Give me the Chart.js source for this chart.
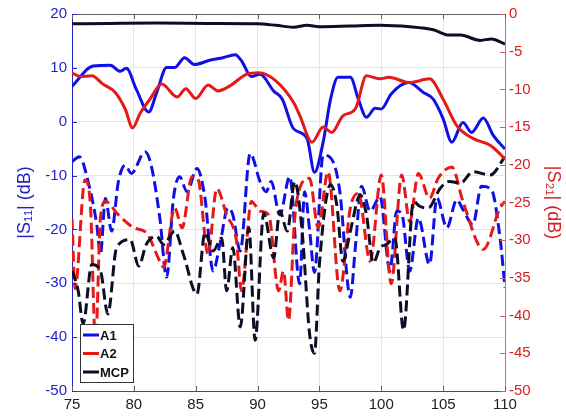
<!DOCTYPE html>
<html>
<head>
<meta charset="utf-8">
<script src="https://cdn.jsdelivr.net/npm/chart.js@4.4.0/dist/chart.umd.min.js"></script>
<style>
  body { margin: 0; background: #fff; }
</style>
</head>
<body>
<canvas id="sChart" width="566" height="417"></canvas>
<script>
// frequency (GHz) and |S21| (dB), right axis
let a1S21Freq = [75, 76.7, 78.1, 78.9, 79.4, 80.2, 81.2, 81.85, 82.65, 83.3, 84.1, 84.9, 86.2, 87.2, 88.2, 88.7, 89.5, 90.2, 91.3, 92.0, 92.9, 94.0, 94.6, 95.3, 95.9, 96.5, 97.5, 98.15, 98.8, 99.5, 100.0, 100.8, 102.2, 103.4, 104.2, 105.0, 105.7, 106.6, 107.3, 108.25, 109.05, 110];
let a1S21 = [-9.6, -6.9, -6.8, -7.6, -7.2, -10.0, -13.0, -10.4, -7.1, -7.1, -5.8, -6.7, -6.1, -5.8, -5.4, -6.2, -8.3, -8.0, -10.2, -11.3, -15.2, -16.5, -21.0, -17, -11.3, -8.4, -8.4, -11.3, -13.7, -12.5, -12.6, -10.6, -9.1, -10.4, -11.3, -13.9, -17, -14.4, -15.7, -13.8, -16.1, -17.9];

let a2S21Freq = [75, 75.65, 76.6, 77.5, 78.5, 79.3, 79.9, 80.5, 81.3, 82.25, 83.5, 84.2, 85.0, 86.0, 86.8, 87.8, 89.1, 90.1, 91.5, 92.9, 93.4, 94.4, 95.3, 96.0, 96.9, 97.9, 98.8, 99.9, 100.6, 102.3, 103.9, 105.0, 106.1, 107.4, 108.8, 110];
let a2S21 = [-7.8, -8.3, -8.2, -9.3, -10.4, -12.6, -15.1, -13.2, -11.3, -9.3, -11.0, -9.9, -11.2, -9.4, -10.2, -9.5, -8.0, -7.8, -8.9, -11.7, -13.4, -17, -15, -15.7, -13.5, -12.6, -8.2, -8.6, -8.4, -9.1, -8.6, -11.3, -14.8, -16.5, -17.4, -19.2];

let mcpS21Freq = [75, 78, 82, 86, 90, 91.5, 92.9, 94, 95, 97.5, 99.9, 102.3, 104.2, 105.5, 106.4, 108, 108.9, 110];
let mcpS21 = [-1.3, -1.25, -1.2, -1.25, -1.3, -1.5, -1.75, -1.5, -1.7, -1.6, -1.5, -1.7, -2.1, -2.8, -2.8, -3.5, -3.3, -4.0];

// |S11| (dB), left axis
let a1S11Freq = [75, 75.6, 76.3, 77.0, 77.3, 77.7, 78.2, 78.75, 79.3, 79.8, 80.9, 81.4, 82.1, 82.65, 83.2, 83.7, 84.3, 85.1, 85.75, 86.4, 87.0, 87.6, 88.0, 88.6, 89.4, 90.2, 90.7, 91.1, 91.8, 92.6, 93.4, 93.8, 94.2, 94.6, 95.3, 96.1, 96.65, 97.5, 97.9, 98.4, 99.1, 99.9, 100.7, 101.25, 101.65, 102.3, 103.0, 103.9, 104.5, 105.3, 106.1, 106.6, 107.4, 108.1, 108.9, 109.6, 110];
let a1S11 = [-7.4, -6.5, -11.1, -19.1, -24.6, -14.2, -20.3, -11.1, -8.1, -9.6, -5.6, -8.1, -17.9, -28.9, -14.2, -10.2, -13.0, -8.7, -14.2, -27.7, -22.2, -16.0, -17.3, -24.0, -5.9, -11.1, -13.0, -11.1, -17.3, -10.2, -30.1, -13, -20, -28, -6.2, -7.4, -13, -32.6, -23.4, -12.0, -16.6, -13.9, -27.7, -16.6, -17.0, -27.7, -17.9, -26.5, -14.2, -19.7, -14.5, -16.3, -19.1, -12.0, -12.6, -21.6, -30.8];

let a2S11Freq = [75, 75.25, 76.05, 76.5, 76.9, 77.3, 77.7, 78.75, 80.0, 81.0, 82.1, 82.4, 83.3, 83.9, 84.7, 85.2, 86.0, 86.7, 87.5, 88.3, 88.7, 89.5, 90.2, 90.9, 91.7, 92.1, 92.5, 93.0, 93.4, 94.2, 94.9, 95.7, 96.65, 97.5, 98.15, 99.1, 100.0, 100.8, 101.65, 102.3, 103.0, 103.9, 104.6, 105.7, 106.6, 108.25, 109.6, 110];
let a2S11 = [-18, -31, -10.8, -16, -41, -17.9, -14.8, -17.3, -19.7, -20.6, -25.9, -27, -16.0, -19.7, -10.2, -10.8, -24.6, -12.4, -17.3, -22.2, -31.4, -14.8, -16.6, -17.3, -31.4, -27.7, -36.9, -17.9, -12.4, -10.5, -19.7, -9.3, -31.4, -16.0, -13.3, -25.9, -9.9, -30.1, -9.9, -18.5, -9.6, -14.2, -10.5, -8.4, -14.8, -23.7, -16.0, -14.8];

let mcpS11Freq = [75, 75.5, 75.9, 76.6, 77.3, 77.9, 78.6, 79.7, 80.4, 81.0, 81.85, 82.4, 83.3, 84.0, 85.1, 85.75, 86.4, 87.1, 87.5, 88.0, 88.6, 89.3, 89.8, 90.5, 91.3, 91.8, 92.4, 93.0, 93.6, 94.2, 94.6, 95.0, 95.9, 96.4, 96.9, 97.5, 98.3, 98.8, 99.35, 99.9, 100.4, 101.1, 101.8, 102.6, 103.1, 103.8, 104.75, 105.5, 106.4, 107.4, 108.8, 110];
let mcpS11 = [-27.7, -31.4, -37.5, -26.5, -27.7, -35.7, -23.4, -21.9, -26.8, -22.8, -21.3, -22.8, -20.3, -24.6, -32.0, -20.6, -24.0, -21.6, -31.4, -23.4, -38.1, -19.7, -40.6, -17.0, -25.3, -16.6, -20.3, -11.1, -20.3, -39.3, -43, -26.5, -11.7, -15.4, -25.9, -20.3, -13.6, -17.3, -26.2, -23.4, -22.8, -21.6, -38.7, -14.8, -15.7, -16.0, -12.4, -11.1, -11.4, -9.3, -9.9, -6.5];

let legendNames = ['A1', 'A2', 'MCP'];
let lineColors = ['#1010e6', '#e61919', '#0d0d26'];

const blueText = '#2323c8';
const redText = '#d62020';
const fontName = '"Liberation Sans", Arial, sans-serif';

function toPoints(xs, ys) {
    let pts = [];
    for (let i = 0; i < xs.length; i++) {
        pts.push({ x: xs[i], y: ys[i] });
    }
    return pts;
}

function lineSet(label, xs, ys, color, axis, dashed) {
    return {
        label: label,
        data: toPoints(xs, ys),
        yAxisID: axis,
        borderColor: color,
        borderWidth: 3,
        borderDash: dashed ? [11, 5] : [],
        pointRadius: 0,
        fill: false,
        cubicInterpolationMode: 'monotone'
    };
}

// boxed legend in the lower left corner, plus inward tick marks like the original
const frameAndLegend = {
    id: 'frameAndLegend',
    afterDraw(chart) {
        const ctx = chart.ctx;
        const area = chart.chartArea;
        const x = chart.scales.x;
        const yl = chart.scales.y;
        const yr = chart.scales.y2;

        ctx.save();
        ctx.lineWidth = 1;

        // top border
        ctx.strokeStyle = '#606060';
        ctx.beginPath();
        ctx.moveTo(area.left, area.top + 0.5);
        ctx.lineTo(area.right, area.top + 0.5);
        ctx.stroke();

        // x ticks, bottom and top
        for (let v = 75; v <= 110; v += 5) {
            let px = Math.round(x.getPixelForValue(v)) + 0.5;
            ctx.beginPath();
            ctx.moveTo(px, area.bottom);
            ctx.lineTo(px, area.bottom - 5);
            ctx.moveTo(px, area.top);
            ctx.lineTo(px, area.top + 5);
            ctx.stroke();
        }
        // left ticks
        ctx.strokeStyle = blueText;
        for (let v = -50; v <= 20; v += 10) {
            let py = Math.round(yl.getPixelForValue(v)) + 0.5;
            ctx.beginPath();
            ctx.moveTo(area.left, py);
            ctx.lineTo(area.left + 5, py);
            ctx.stroke();
        }
        // right ticks
        ctx.strokeStyle = '#d06060';
        for (let v = -50; v <= 0; v += 5) {
            let py = Math.round(yr.getPixelForValue(v)) + 0.5;
            ctx.beginPath();
            ctx.moveTo(area.right, py);
            ctx.lineTo(area.right - 5, py);
            ctx.stroke();
        }

        // legend
        let bx = area.left + 8, by = area.bottom - 67, bw = 53, bh = 58;
        ctx.fillStyle = '#ffffff';
        ctx.fillRect(bx, by, bw, bh);
        ctx.strokeStyle = '#333333';
        ctx.strokeRect(bx + 0.5, by + 0.5, bw, bh);
        ctx.font = 'bold 13px ' + fontName;
        ctx.textBaseline = 'middle';
        for (let i = 0; i < legendNames.length; i++) {
            let ly = by + 11 + i * 18.5;
            ctx.strokeStyle = lineColors[i];
            ctx.lineWidth = 3;
            ctx.beginPath();
            ctx.moveTo(bx + 3, ly);
            ctx.lineTo(bx + 19, ly);
            ctx.stroke();
            ctx.fillStyle = '#111111';
            ctx.fillText(legendNames[i], bx + 20, ly + 1);
        }
        ctx.restore();
    }
};

new Chart('sChart', {
    type: 'line',
    data: {
        datasets: [
            lineSet('MCP', mcpS21Freq, mcpS21, lineColors[2], 'y2', false),
            lineSet('A2', a2S21Freq, a2S21, lineColors[1], 'y2', false),
            lineSet('A1', a1S21Freq, a1S21, lineColors[0], 'y2', false),
            lineSet('MCP S11', mcpS11Freq, mcpS11, lineColors[2], 'y', true),
            lineSet('A2 S11', a2S11Freq, a2S11, lineColors[1], 'y', true),
            lineSet('A1 S11', a1S11Freq, a1S11, lineColors[0], 'y', true)
        ]
    },
    options: {
        responsive: false,
        animation: false,
        layout: { padding: { top: 11, left: 0, right: 0, bottom: 0 } },
        plugins: {
            legend: { display: false },
            tooltip: { enabled: false }
        },
        scales: {
            x: {
                type: 'linear',
                min: 75,
                max: 110,
                ticks: { stepSize: 5, color: '#222222', font: { family: fontName, size: 15 }, padding: 5 },
                grid: { color: '#e4e4ea', drawTicks: false },
                border: { color: '#505050' },
                afterFit(scale) { scale.height = 26; }
            },
            y: {
                position: 'left',
                min: -50,
                max: 20,
                ticks: { stepSize: 10, color: blueText, font: { family: fontName, size: 15 }, padding: 5 },
                grid: { color: '#e4e4ea', drawTicks: false },
                border: { color: blueText },
                title: {
                    display: true,
                    text: '|S\u2081\u2081| (dB)',
                    color: blueText,
                    font: { family: fontName, size: 18 },
                    padding: { top: 14, bottom: 2 }
                },
                afterFit(scale) { scale.width = 72; }
            },
            y2: {
                position: 'right',
                min: -50,
                max: 0,
                ticks: { stepSize: 5, color: redText, font: { family: fontName, size: 15 }, padding: 4 },
                grid: { display: false, drawTicks: false },
                border: { color: '#d07070' },
                title: {
                    display: true,
                    text: '|S\u2082\u2081| (dB)',
                    color: redText,
                    font: { family: fontName, size: 18 },
                    padding: { top: 2, bottom: 6 }
                },
                afterFit(scale) { scale.width = 61; }
            }
        }
    },
    plugins: [frameAndLegend]
});
</script>
</body>
</html>
